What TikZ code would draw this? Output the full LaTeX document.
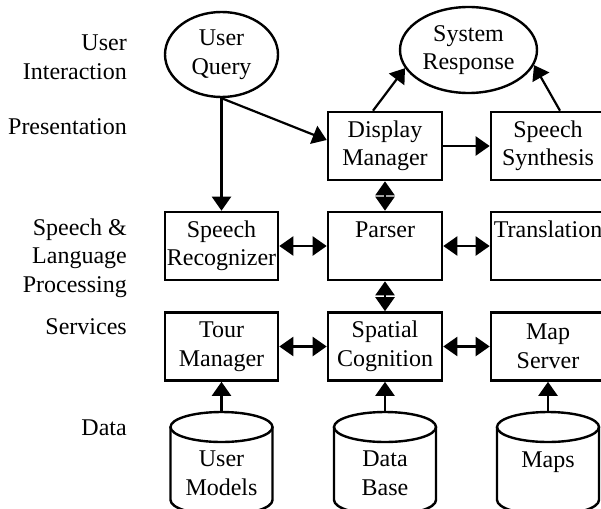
\documentclass[tikz,border=0pt]{standalone}
\usepackage{fontspec}
\setmainfont{Liberation Serif}
\usetikzlibrary{arrows.meta,shapes.geometric}
\newcommand\drawcyl[1]{%
  \draw[cyl] ([yshift=46.5pt]#1.center) ellipse [x radius=51pt, y radius=15pt];
  \draw[cyl] ([xshift=-51pt,yshift=46.5pt]#1.center) -- ([xshift=-51pt,yshift=-26.5pt]#1.center)
    arc[start angle=180, end angle=360, x radius=51pt, y radius=15pt]
    -- ([xshift=51pt,yshift=46.5pt]#1.center);}
\begin{document}
\begin{tikzpicture}[x=1pt,y=-1pt,
  every node/.style={font=\fontsize{24}{28.5}\selectfont, inner sep=0pt, align=center},
  blk/.style={draw, line width=2.6pt, minimum width=114pt, minimum height=68pt},
  oval/.style={draw, ellipse, line width=2.4pt},
  lbl/.style={anchor=east, align=right},
  tip/.tip={Triangle[width=19pt,length=14pt]},
  conn/.style={line width=2.2pt, -tip},
  bconn/.style={line width=2.2pt, tip-tip},
  cyl/.style={line width=2.4pt},
  store/.style={minimum width=102pt, minimum height=123pt}
]
\path[fill=white] (0,0) rectangle (601,508);
\useasboundingbox (0,0) rectangle (601,508);

% layer labels
\node[lbl] (lui) at (127,57.5) {User\\Interaction};
\node[lbl] (lpr) at (127,127) {Presentation};
\node[lbl] (lsl) at (127,258) {Speech \&\\Language\\Processing};
\node[lbl] (lse) at (127,327) {Services};
\node[lbl] (lda) at (127,428) {Data};

% ellipses
\node[oval, minimum width=113pt, minimum height=85pt] (uq) at (221.5,54.5) {User\\Query};
\node[oval, minimum width=137pt, minimum height=86pt] (srp) at (468.5,50) {System\\Response};

% boxes
\node[blk, minimum width=113pt] (sr) at (221.5,246) {Speech\\Recognizer};
\node[blk] (dm) at (385,146) {Display\\Manager};
\node[blk] (ss) at (548,146) {Speech\\Synthesis};
\node[blk] (pa) at (385,246) {Parser\\\phantom{g}};
\node[blk] (tr) at (548,246) {Translation\\\phantom{g}};
\node[blk, minimum width=113pt] (tm) at (221.5,346.5) {Tour\\Manager};
\node[blk] (sc) at (385,346.5) {Spatial\\Cognition};
\node[blk] (ms) at (548,346.5) {Map\\Server};

% data stores
\node[store] (um) at (221.5,473.5) {User\\Models};
\node[store] (db) at (385,473.5) {Data\\Base};
\node[store] (mp) at (548,473.5) {Maps\\\phantom{M}};
\drawcyl{um}
\drawcyl{db}
\drawcyl{mp}

% connectors
\draw[conn] (uq.south) -- (sr.north);
\draw[conn] (uq.south) -- ([yshift=6pt]dm.west);
\draw[conn] ([xshift=-12pt]dm.north) -- (srp.196);
\draw[conn] ([xshift=12pt]ss.north) -- (srp.-13);
\draw[conn] (dm.east) -- (ss.west);
\draw[bconn] (dm.south) -- (pa.north);
\draw[bconn] (sr.east) -- (pa.west);
\draw[bconn] (pa.east) -- (tr.west);
\draw[bconn] (pa.south) -- (sc.north);
\draw[bconn] (tm.east) -- (sc.west);
\draw[bconn] (sc.east) -- (ms.west);
\draw[conn] (um.north) -- (tm.south);
\draw[conn] (db.north) -- (sc.south);
\draw[conn] (mp.north) -- (ms.south);
\end{tikzpicture}
\end{document}
